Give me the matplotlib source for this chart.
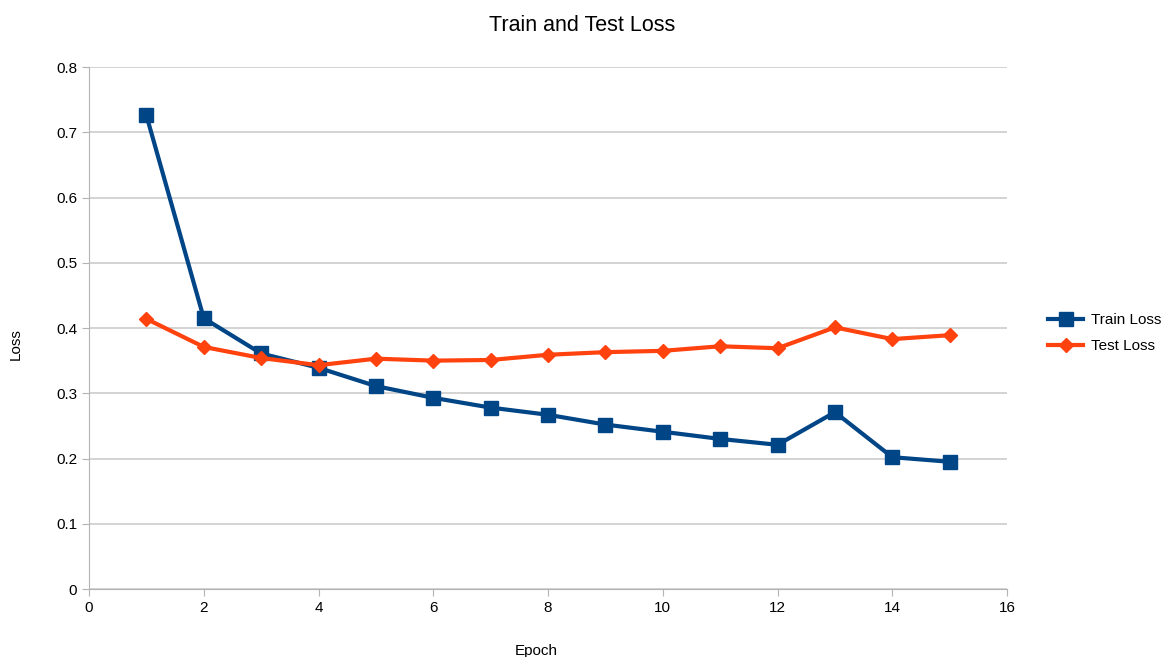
import numpy as np
import matplotlib.pyplot as plt

plt.rcParams['font.family'] = ['Liberation Sans', 'DejaVu Sans']

epochs = np.arange(1, 16)
train_loss = [0.726, 0.415, 0.361, 0.339, 0.311, 0.293, 0.278, 0.267, 0.252,
              0.241, 0.230, 0.221, 0.271, 0.202, 0.195]
test_loss = [0.414, 0.371, 0.354, 0.343, 0.353, 0.350, 0.351, 0.359, 0.363,
             0.365, 0.372, 0.369, 0.401, 0.383, 0.389]

fig = plt.figure(figsize=(11.71, 6.57), dpi=100)
ax = fig.add_axes([0.076, 0.1035, 0.784, 0.7945])

ax.plot(epochs, train_loss, color='#004586', linewidth=3, marker='s',
        markersize=10, label='Train Loss', zorder=3)
ax.plot(epochs, test_loss, color='#ff420e', linewidth=3, marker='D',
        markersize=7, label='Test Loss', zorder=3)

ax.set_xlim(0, 16)
ax.set_ylim(0, 0.8)
ax.set_xticks(np.arange(0, 17, 2))
ax.set_yticks(np.arange(0, 0.81, 0.1))
ax.set_yticklabels(['0', '0.1', '0.2', '0.3', '0.4', '0.5', '0.6', '0.7', '0.8'])
ax.grid(axis='y', color='#cccccc', linewidth=1.2)
ax.set_axisbelow(True)
for s in ['top', 'right']:
    ax.spines[s].set_visible(False)
for s in ['left', 'bottom']:
    ax.spines[s].set_color('#b3b3b3')
ax.tick_params(colors='#b3b3b3', labelcolor='black', labelsize=11, length=5)

fig.text(0.497, 0.961, 'Train and Test Loss', fontsize=15.5,
         ha='center', va='center')
ax.set_xlabel('Epoch', fontsize=11)
ax.xaxis.set_label_coords(0.487, -0.105)
ax.set_ylabel('Loss', fontsize=11)
ax.yaxis.set_label_coords(-0.072, 0.47)

ax.legend(loc='center left', bbox_to_anchor=(1.03, 0.49), frameon=False,
          fontsize=11, handlelength=2.3, handletextpad=0.5, labelspacing=0.75)

fig.savefig('out.png', dpi=100)
